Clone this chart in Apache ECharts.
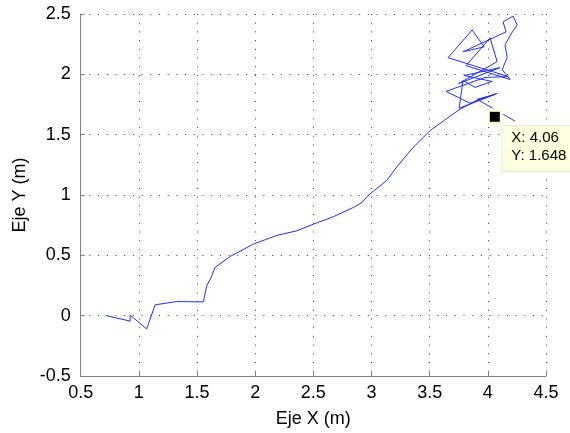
<!DOCTYPE html>
<html>
<head>
<meta charset="utf-8">
<script src="https://cdn.jsdelivr.net/npm/echarts@6/dist/echarts.min.js"></script>
<style>
  html, body { margin: 0; padding: 0; background: #fff; }
  #chart { width: 570px; height: 433px; }
</style>
</head>
<body>
<div id="chart"></div>
<script>
// Recorded trajectory (metres)
const pathX = [0.72, 0.925, 0.925, 1.067, 1.14, 1.325, 1.554, 1.583, 1.62, 1.655, 1.784, 1.984,
  2.185, 2.357, 2.50, 2.672, 2.844, 2.916, 2.973, 3.13, 3.217, 3.346, 3.503, 3.647, 3.761,
  3.908, 4.080, 3.847, 3.641, 3.976, 4.174, 3.658, 3.865, 3.968, 3.787, 4.157, 4.131, 4.217,
  4.252, 4.200, 4.148, 4.166, 4.123, 4.191, 3.813, 4.019, 4.080, 3.750, 4.105, 3.796, 4.037,
  3.890, 3.787, 3.753, 4.062, 3.908, 4.234];
const pathY = [0.00, -0.045, 0.005, -0.11, 0.09, 0.117, 0.114, 0.246, 0.314, 0.40, 0.49, 0.593,
  0.665, 0.703, 0.758, 0.82, 0.897, 0.936, 0.998, 1.12, 1.232, 1.382, 1.533, 1.634, 1.711,
  1.785, 1.842, 1.760, 1.859, 1.974, 1.982, 2.138, 2.368, 2.228, 2.187, 2.352, 2.434, 2.483,
  2.409, 2.335, 2.245, 2.138, 2.039, 1.957, 2.072, 2.302, 2.105, 1.924, 2.056, 1.990, 1.941,
  1.892, 1.949, 1.719, 1.834, 1.793, 1.612];

// Data cursor
const tipX = 4.06;
const tipY = 1.648;

// Axis ticks
const xTicks = { min: 0.5, max: 4.5, step: 0.5 };
const yTicks = { min: -0.5, max: 2.5, step: 0.5 };

const path = pathX.map((x, i) => [x, pathY[i]]);
const tip = [[tipX, tipY]];

const font = 'Liberation Sans, Arial, Helvetica, sans-serif';
const gridDots = { color: '#3a3a3a', width: 1, type: [1, 7.7] };
const frame = { color: '#808080', width: 1 };

const chart = echarts.init(document.getElementById('chart'), null, { renderer: 'canvas' });
chart.setOption({
  animation: false,
  backgroundColor: '#ffffff',
  grid: { left: 80.7, right: 24, top: 14, bottom: 54, containLabel: false },
  xAxis: {
    type: 'value',
    min: xTicks.min, max: xTicks.max, interval: xTicks.step,
    name: 'Eje X (m)', nameLocation: 'middle', nameGap: 34,
    nameTextStyle: { fontFamily: font, fontSize: 18, color: '#000' },
    axisLine: { show: true, onZero: false, lineStyle: frame },
    axisTick: { show: true, inside: true, length: 4, lineStyle: frame },
    axisLabel: { fontFamily: font, fontSize: 18, color: '#000', margin: 8 },
    splitLine: { show: true, lineStyle: gridDots }
  },
  yAxis: {
    type: 'value',
    min: yTicks.min, max: yTicks.max, interval: yTicks.step,
    name: 'Eje Y (m)', nameLocation: 'middle', nameGap: 46, nameRotate: 90,
    nameTextStyle: { fontFamily: font, fontSize: 18, color: '#000' },
    axisLine: { show: true, onZero: false, lineStyle: frame },
    axisTick: { show: true, inside: true, length: 4, lineStyle: frame },
    axisLabel: { fontFamily: font, fontSize: 18, color: '#000', margin: 10 },
    splitLine: { show: true, lineStyle: gridDots }
  },
  series: [
    {
      type: 'line',
      data: path,
      showSymbol: false,
      symbol: 'none',
      lineStyle: { color: '#1f2fff', width: 1 },
      z: 2
    },
    {
      // pale halo of the data cursor, carrying its text box
      type: 'scatter',
      data: tip,
      symbol: 'rect',
      symbolSize: 17,
      itemStyle: { color: '#ffffe1', opacity: 1 },
      label: {
        show: true,
        position: [16, 18],
        formatter: () => 'X: ' + tipX + '\nY: ' + tipY,
        fontFamily: font,
        fontSize: 15,
        lineHeight: 17.5,
        color: '#000',
        backgroundColor: '#ffffe1',
        borderColor: '#e6e6c8',
        borderWidth: 1,
        padding: [3, 40, 7, 9],
        align: 'left',
        verticalAlign: 'top'
      },
      z: 3
    },
    {
      type: 'scatter',
      data: tip,
      symbol: 'rect',
      symbolSize: 10,
      itemStyle: { color: '#000', opacity: 1 },
      z: 4
    }
  ]
});
</script>
</body>
</html>
